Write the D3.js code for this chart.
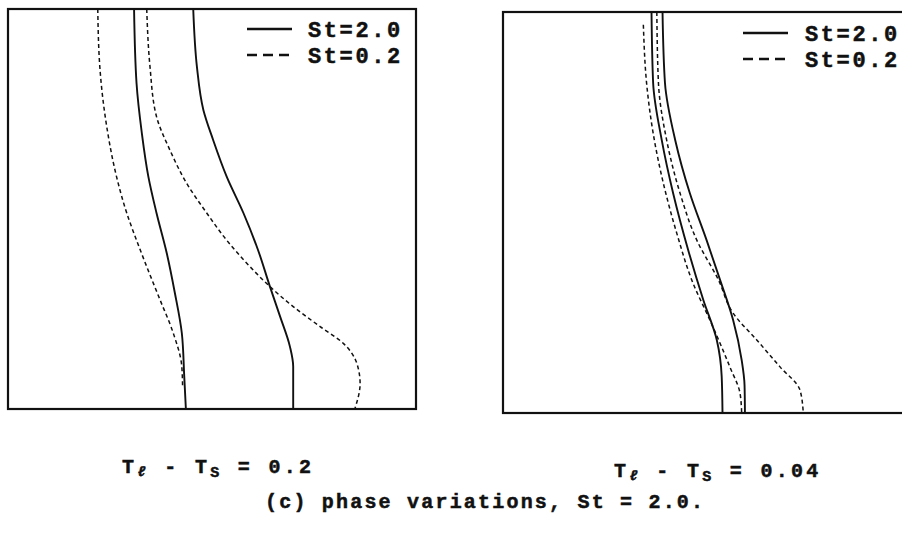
<!DOCTYPE html>
<html>
<head>
<meta charset="utf-8">
<script src="https://cdn.jsdelivr.net/npm/d3@7"></script>
<style>
  body { margin: 0; background: #fff; }
  text { font-family: "Liberation Mono", "Courier New", monospace; font-weight: bold; fill: #111; stroke: #111; stroke-width: 0.5; }
</style>
</head>
<body>
<div id="chart"></div>
<script>
// Profiles: x = position across the box (0-100), y = depth from top (0-100)
// Left panel, Tl - Ts = 0.2
const leftSt2a = [[30.9,0],[31.5,18.5],[32.8,31],[34.4,41.9],[36.4,51],[38.9,61],[40.9,71],[42.6,81],[43.2,91.9],[43.6,100]];
const leftSt2b = [[45.4,0],[46.3,14.4],[47.9,25.3],[50.3,32.8],[53.6,41.9],[57.7,51],[61.3,60.3],[64.2,69.4],[66.7,76.9],[69.1,84.4],[69.9,89.4],[69.9,100]];
const leftSt02a = [[22,0],[22.5,14.4],[24.2,29.4],[26.6,41.9],[29.1,51],[31.5,57.8],[34,64.4],[37.3,72.8],[40.5,81],[42.6,89.4],[42.8,94.8]];
const leftSt02b = [[34,0],[34.8,14.4],[36.4,26.9],[39.7,35.3],[43.8,43.6],[48.7,51],[53.6,57.8],[59.3,64.4],[64.2,69.4],[69.9,74.4],[76.5,79.4],[82.2,83.6],[85.5,88.6],[86.3,93.6],[85,100]];

// Right panel, Tl - Ts = 0.04
const rightSt2a = [[36.4,0],[36.8,17.7],[38.9,31.9],[41.7,45.2],[45.4,59.4],[49.1,71.8],[52.4,81.8],[53.6,90.9],[53.8,100]];
const rightSt2b = [[39.1,0],[39.7,17.7],[42.2,31.9],[45.8,45.2],[49.9,56.9],[53.2,66.8],[56.4,76.8],[58.5,86.8],[59.2,93],[59.3,100]];
const rightSt02a = [[34.4,3.2],[35.2,17.8],[36.8,30.2],[39.3,42.7],[42.6,55.2],[46.6,67.7],[50.7,76.8],[55.6,88.5],[58.1,95.1],[58.5,100]];
const rightSt02b = [[37.7,0],[38.1,17.7],[40.1,31.9],[43.4,45.2],[47.5,56.9],[52.8,66.8],[56.4,75.1],[62.2,81.8],[67.9,88.5],[72.8,94.3],[73.6,100]];

const legendLabels = ["St=2.0", "St=0.2"];
const captions = ["0.2", "0.04"];
const footnote = "(c) phase variations, St = 2.0.";

const W = 902, H = 534;
const svg = d3.select("#chart").append("svg")
    .attr("width", W)
    .attr("height", H);

const panels = [
    { x: 8, y: 9, w: 408, h: 400, solid: [leftSt2a, leftSt2b], dashed: [leftSt02a, leftSt02b],
      legend: { x1: 247, x2: 292, tx: 308, ty: 29 }, cap: { x: 122, y: 473 }, label: captions[0] },
    { x: 503, y: 12, w: 408, h: 401, solid: [rightSt2a, rightSt2b], dashed: [rightSt02a, rightSt02b],
      legend: { x1: 743, x2: 788, tx: 805, ty: 33 }, cap: { x: 614, y: 477 }, label: captions[1] }
];

panels.forEach(function (p) {
    let x = d3.scaleLinear().domain([0, 100]).range([p.x, p.x + p.w]);
    let y = d3.scaleLinear().domain([0, 100]).range([p.y, p.y + p.h]);

    let line = d3.line()
        .x(function (d) { return x(d[0]); })
        .y(function (d) { return y(d[1]); })
        .curve(d3.curveMonotoneY);

    // frame
    svg.append("rect")
        .attr("x", p.x).attr("y", p.y)
        .attr("width", p.w).attr("height", p.h)
        .attr("fill", "none")
        .attr("stroke", "#111")
        .attr("stroke-width", 2.2);

    p.solid.forEach(function (s) {
        svg.append("path")
            .attr("d", line(s))
            .attr("fill", "none")
            .attr("stroke", "#111")
            .attr("stroke-width", 1.9);
    });
    p.dashed.forEach(function (s) {
        svg.append("path")
            .attr("d", line(s))
            .attr("fill", "none")
            .attr("stroke", "#111")
            .attr("stroke-width", 1.5)
            .attr("stroke-dasharray", "4,3");
    });

    // legend
    let lg = p.legend;
    [0, 1].forEach(function (i) {
        let ly = lg.ty + i * 26;
        svg.append("line")
            .attr("x1", lg.x1).attr("x2", lg.x2)
            .attr("y1", ly).attr("y2", ly)
            .attr("stroke", "#111")
            .attr("stroke-width", 2.6)
            .attr("stroke-dasharray", i === 0 ? null : "10,6");
        svg.append("text")
            .attr("x", lg.tx)
            .attr("y", ly + 7.5)
            .attr("font-size", 22)
            .attr("letter-spacing", 2.6)
            .text(legendLabels[i]);
    });

    // caption  T_l - T_s = value
    let t = svg.append("text")
        .attr("x", p.cap.x)
        .attr("y", p.cap.y)
        .attr("font-size", 20)
        .attr("letter-spacing", 3.3);
    t.append("tspan").text("T");
    t.append("tspan").attr("font-size", 14).attr("font-style", "italic").attr("dy", 3).text("ℓ");
    t.append("tspan").attr("dy", -3).text(" - T");
    t.append("tspan").attr("font-size", 15).attr("dy", 4).text("S");
    t.append("tspan").attr("dy", -4).text(" = " + p.label);
});

svg.append("text")
    .attr("x", 265)
    .attr("y", 508)
    .attr("font-size", 20)
    .attr("letter-spacing", 2.2)
    .text(footnote);
</script>
</body>
</html>
